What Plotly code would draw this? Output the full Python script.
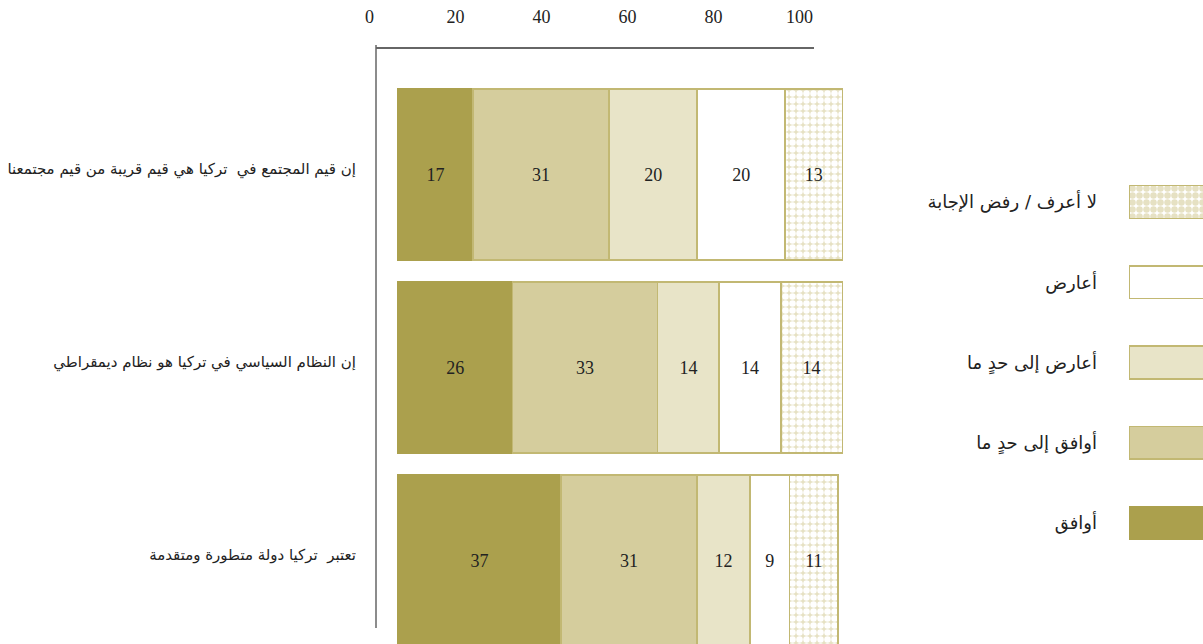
import plotly.graph_objects as go

W, H = 1203, 644

# ---------------- data ----------------
statements = [
    "إن قيم المجتمع في  تركيا هي قيم قريبة من قيم مجتمعنا",
    "إن النظام السياسي في تركيا هو نظام ديمقراطي",
    "تعتبر  تركيا دولة متطورة ومتقدمة",
]
series_names = [
    "أوافق",
    "أوافق إلى حدٍ ما",
    "أعارض إلى حدٍ ما",
    "أعارض",
    "لا أعرف / رفض الإجابة",
]
agree = [17, 26, 37]
somewhat_agree = [31, 33, 31]
somewhat_oppose = [20, 14, 12]
oppose = [20, 14, 9]
dont_know = [13, 14, 11]
tick_values = [0, 20, 40, 60, 80, 100]
tick_labels = ["0", "20", "40", "60", "80", "100"]

series_values = [agree, somewhat_agree, somewhat_oppose, oppose, dont_know]

# ---------------- styles ----------------
fills = ["#ABA04D", "#D5CD9D", "#E8E4C8", "#FFFFFF", "#E6E1C3"]
borders = ["#ABA04D", "#C2B873", "#C2B873", "#C2B873", "#C2B873"]
patterns = ["", "", "", "", "."]
NUM_FONT = "Liberation Serif"
AR_FONT = "DejaVu Sans"


def px_x(p):
    return p / W


def px_y(p):
    return 1 - p / H


fig = go.Figure()

for name, vals, fc, bc, pat in zip(series_names, series_values, fills, borders, patterns):
    marker = dict(color=fc, line=dict(color=bc, width=1.5))
    if pat:
        marker["pattern"] = dict(shape=pat, fgcolor="white", bgcolor=fc,
                                 size=7, solidity=0.68, fillmode="replace")
    fig.add_trace(go.Bar(
        y=statements, x=vals, name=name, orientation="h",
        marker=marker,
        text=vals, texttemplate="%{x}", textposition="inside",
        insidetextanchor="middle", textangle=0,
        textfont=dict(family=NUM_FONT, size=18, color="#222222"),
        showlegend=False, hoverinfo="x+name", xaxis="x", yaxis="y",
    ))

# dummy trace to carry the top tick-label axis
fig.add_trace(go.Scatter(x=[None], y=[None], xaxis="x2", yaxis="y",
                         showlegend=False, hoverinfo="skip"))

# legend drawn as a small bar subplot (swatches + labels)
legend_labels = series_names[::-1]
fig.add_trace(go.Bar(
    y=legend_labels, x=[1] * len(legend_labels), orientation="h",
    width=0.41,
    marker=dict(
        color=fills[::-1],
        line=dict(color=borders[::-1], width=1.5),
        pattern=dict(shape=patterns[::-1], fgcolor="white", bgcolor=fills[::-1],
                     size=7, solidity=0.68, fillmode="replace"),
    ),
    showlegend=False, hoverinfo="skip", xaxis="x3", yaxis="y3",
))

# ---------------- axes ----------------
bar_zero_px, bar_scale = 398, 4.4
x_left_px, x_right_px = 376, 870
tick_zero_px, tick_scale = 369.6, 4.2986
t_left_px, t_right_px = 360, 830

row_top_center, row_pitch = 174.5, 193
y_top_px, y_bot_px = 48, 644

leg_top_center, leg_pitch = 202, 80.25
ly_top_px, ly_bot_px = 150, 580

fig.update_layout(
    width=W, height=H,
    margin=dict(l=0, r=0, t=0, b=0, autoexpand=False),
    paper_bgcolor="white", plot_bgcolor="rgba(0,0,0,0)",
    barmode="stack", bargap=22 / 193,
    showlegend=False,
    xaxis=dict(
        domain=[px_x(x_left_px), px_x(x_right_px)],
        range=[(x_left_px - bar_zero_px) / bar_scale, (x_right_px - bar_zero_px) / bar_scale],
        showgrid=False, zeroline=False, showline=False, showticklabels=False,
        anchor="y", fixedrange=True, automargin=False,
    ),
    xaxis2=dict(
        domain=[px_x(t_left_px), px_x(t_right_px)],
        range=[(t_left_px - tick_zero_px) / tick_scale, (t_right_px - tick_zero_px) / tick_scale],
        anchor="y", side="top",
        tickmode="array", tickvals=tick_values, ticktext=tick_labels,
        ticks="", showgrid=False, zeroline=False, showline=False,
        ticklabelstandoff=20,
        tickfont=dict(family=NUM_FONT, size=18, color="#222222"),
        fixedrange=True, automargin=False,
    ),
    yaxis=dict(
        domain=[px_y(y_bot_px), px_y(y_top_px)],
        type="category",
        range=[(y_bot_px - row_top_center) / row_pitch, -(row_top_center - y_top_px) / row_pitch],
        showgrid=False, zeroline=False, showline=False, ticks="",
        ticklabelstandoff=19, ticklabelshift=6,
        tickfont=dict(family=AR_FONT, size=15, color="#222222"),
        anchor="x", fixedrange=True, automargin=False,
    ),
    xaxis3=dict(
        domain=[px_x(1129), 1.0],
        range=[0, 0.9],
        showgrid=False, zeroline=False, showline=False, showticklabels=False,
        anchor="y3", fixedrange=True, automargin=False,
    ),
    yaxis3=dict(
        domain=[px_y(ly_bot_px), px_y(ly_top_px)],
        type="category",
        range=[(ly_bot_px - leg_top_center) / leg_pitch, -(leg_top_center - ly_top_px) / leg_pitch],
        showgrid=False, zeroline=False, showline=False, ticks="",
        ticklabelstandoff=31,
        tickfont=dict(family=AR_FONT, size=18, color="#222222"),
        anchor="x3", fixedrange=True, automargin=False,
    ),
    shapes=[
        dict(type="line", xref="paper", yref="paper",
             x0=px_x(376), x1=px_x(814), y0=px_y(48), y1=px_y(48),
             line=dict(color="#333333", width=1.5)),
        dict(type="line", xref="paper", yref="paper",
             x0=px_x(376), x1=px_x(376), y0=px_y(45), y1=px_y(628),
             line=dict(color="#666666", width=1.5)),
    ],
)

fig.write_html("out.html")
